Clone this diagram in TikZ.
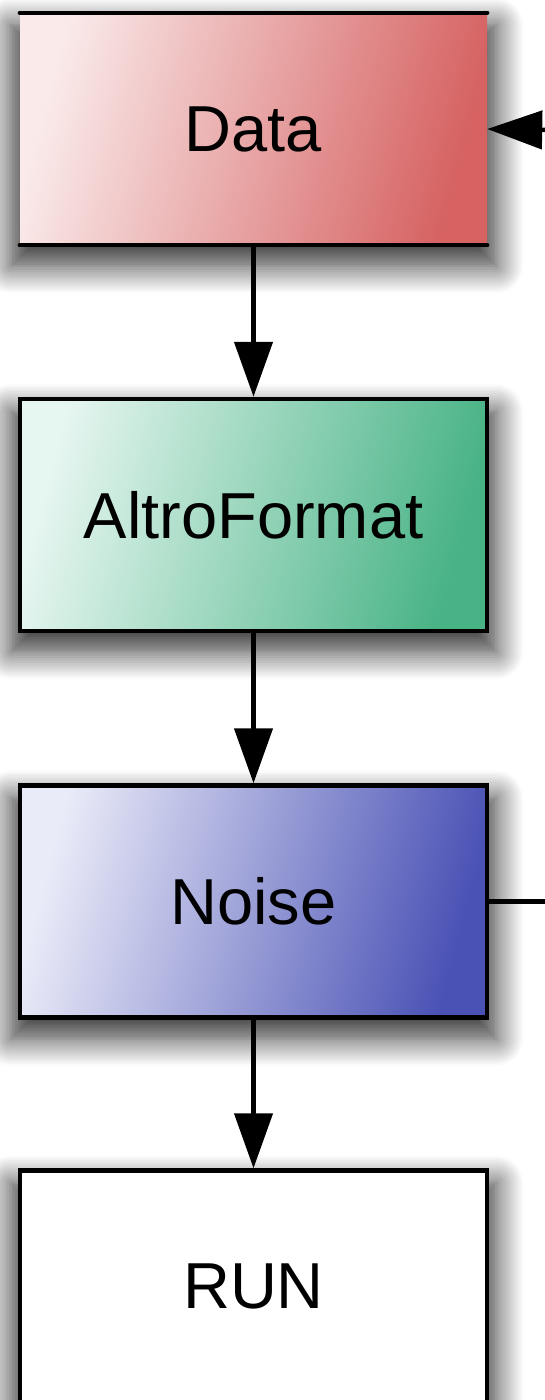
\documentclass[tikz,border=0pt]{standalone}
\usepackage{fontspec}
\setmainfont{Liberation Sans}
\usetikzlibrary{arrows.meta,shadows.blur}
\definecolor{dataL}{HTML}{FAEAEA}
\definecolor{dataD}{HTML}{D66262}
\definecolor{altL}{HTML}{E6F6F0}
\definecolor{altD}{HTML}{48B385}
\definecolor{noiL}{HTML}{EAEBF8}
\definecolor{noiD}{HTML}{4A52B5}
\tikzset{
  box/.style={minimum width=467pt, minimum height=232pt, inner sep=0pt,
    font=\fontsize{65}{78}\selectfont,
    blur shadow={shadow xshift=0pt, shadow yshift=-16pt, shadow scale=1.04, shadow blur radius=26pt, shadow blur steps=12, shadow opacity=80}},
  bord/.style={draw=black, line width=4.5pt},
  grad/.style 2 args={shading=axis, left color=#1, right color=#2, shading angle=75},
  arr/.style={line width=4.5pt, -{Triangle[width=38pt,length=55pt]}},
  ln/.style={line width=4.5pt}
}
\begin{document}
\begin{tikzpicture}[x=1pt,y=-1pt]
\useasboundingbox (0,0) rectangle (544,1400);
\node[box, grad={dataL}{dataD}] (d) at (253.5,129) {Data};
\draw[ln, line cap=round] (d.north west) -- (d.north east);
\draw[ln, line cap=round] (d.south west) -- (d.south east);
\node[box, bord, grad={altL}{altD}] (a) at (253.5,515) {AltroFormat};
\node[box, bord, grad={noiL}{noiD}] (n) at (253.5,901.5) {Noise};
\node[box, bord, fill=white] (r) at (253.5,1286.5) {RUN};
\coordinate (din) at (548,130);
\coordinate (nout) at (548,901.5);
\draw[arr] (d.south) -- (a.north);
\draw[arr] (a.south) -- (n.north);
\draw[arr] (n.south) -- (r.north);
\draw[arr] (din) -- (d.east);
\draw[ln] (n.east) -- (nout);
\end{tikzpicture}
\end{document}
